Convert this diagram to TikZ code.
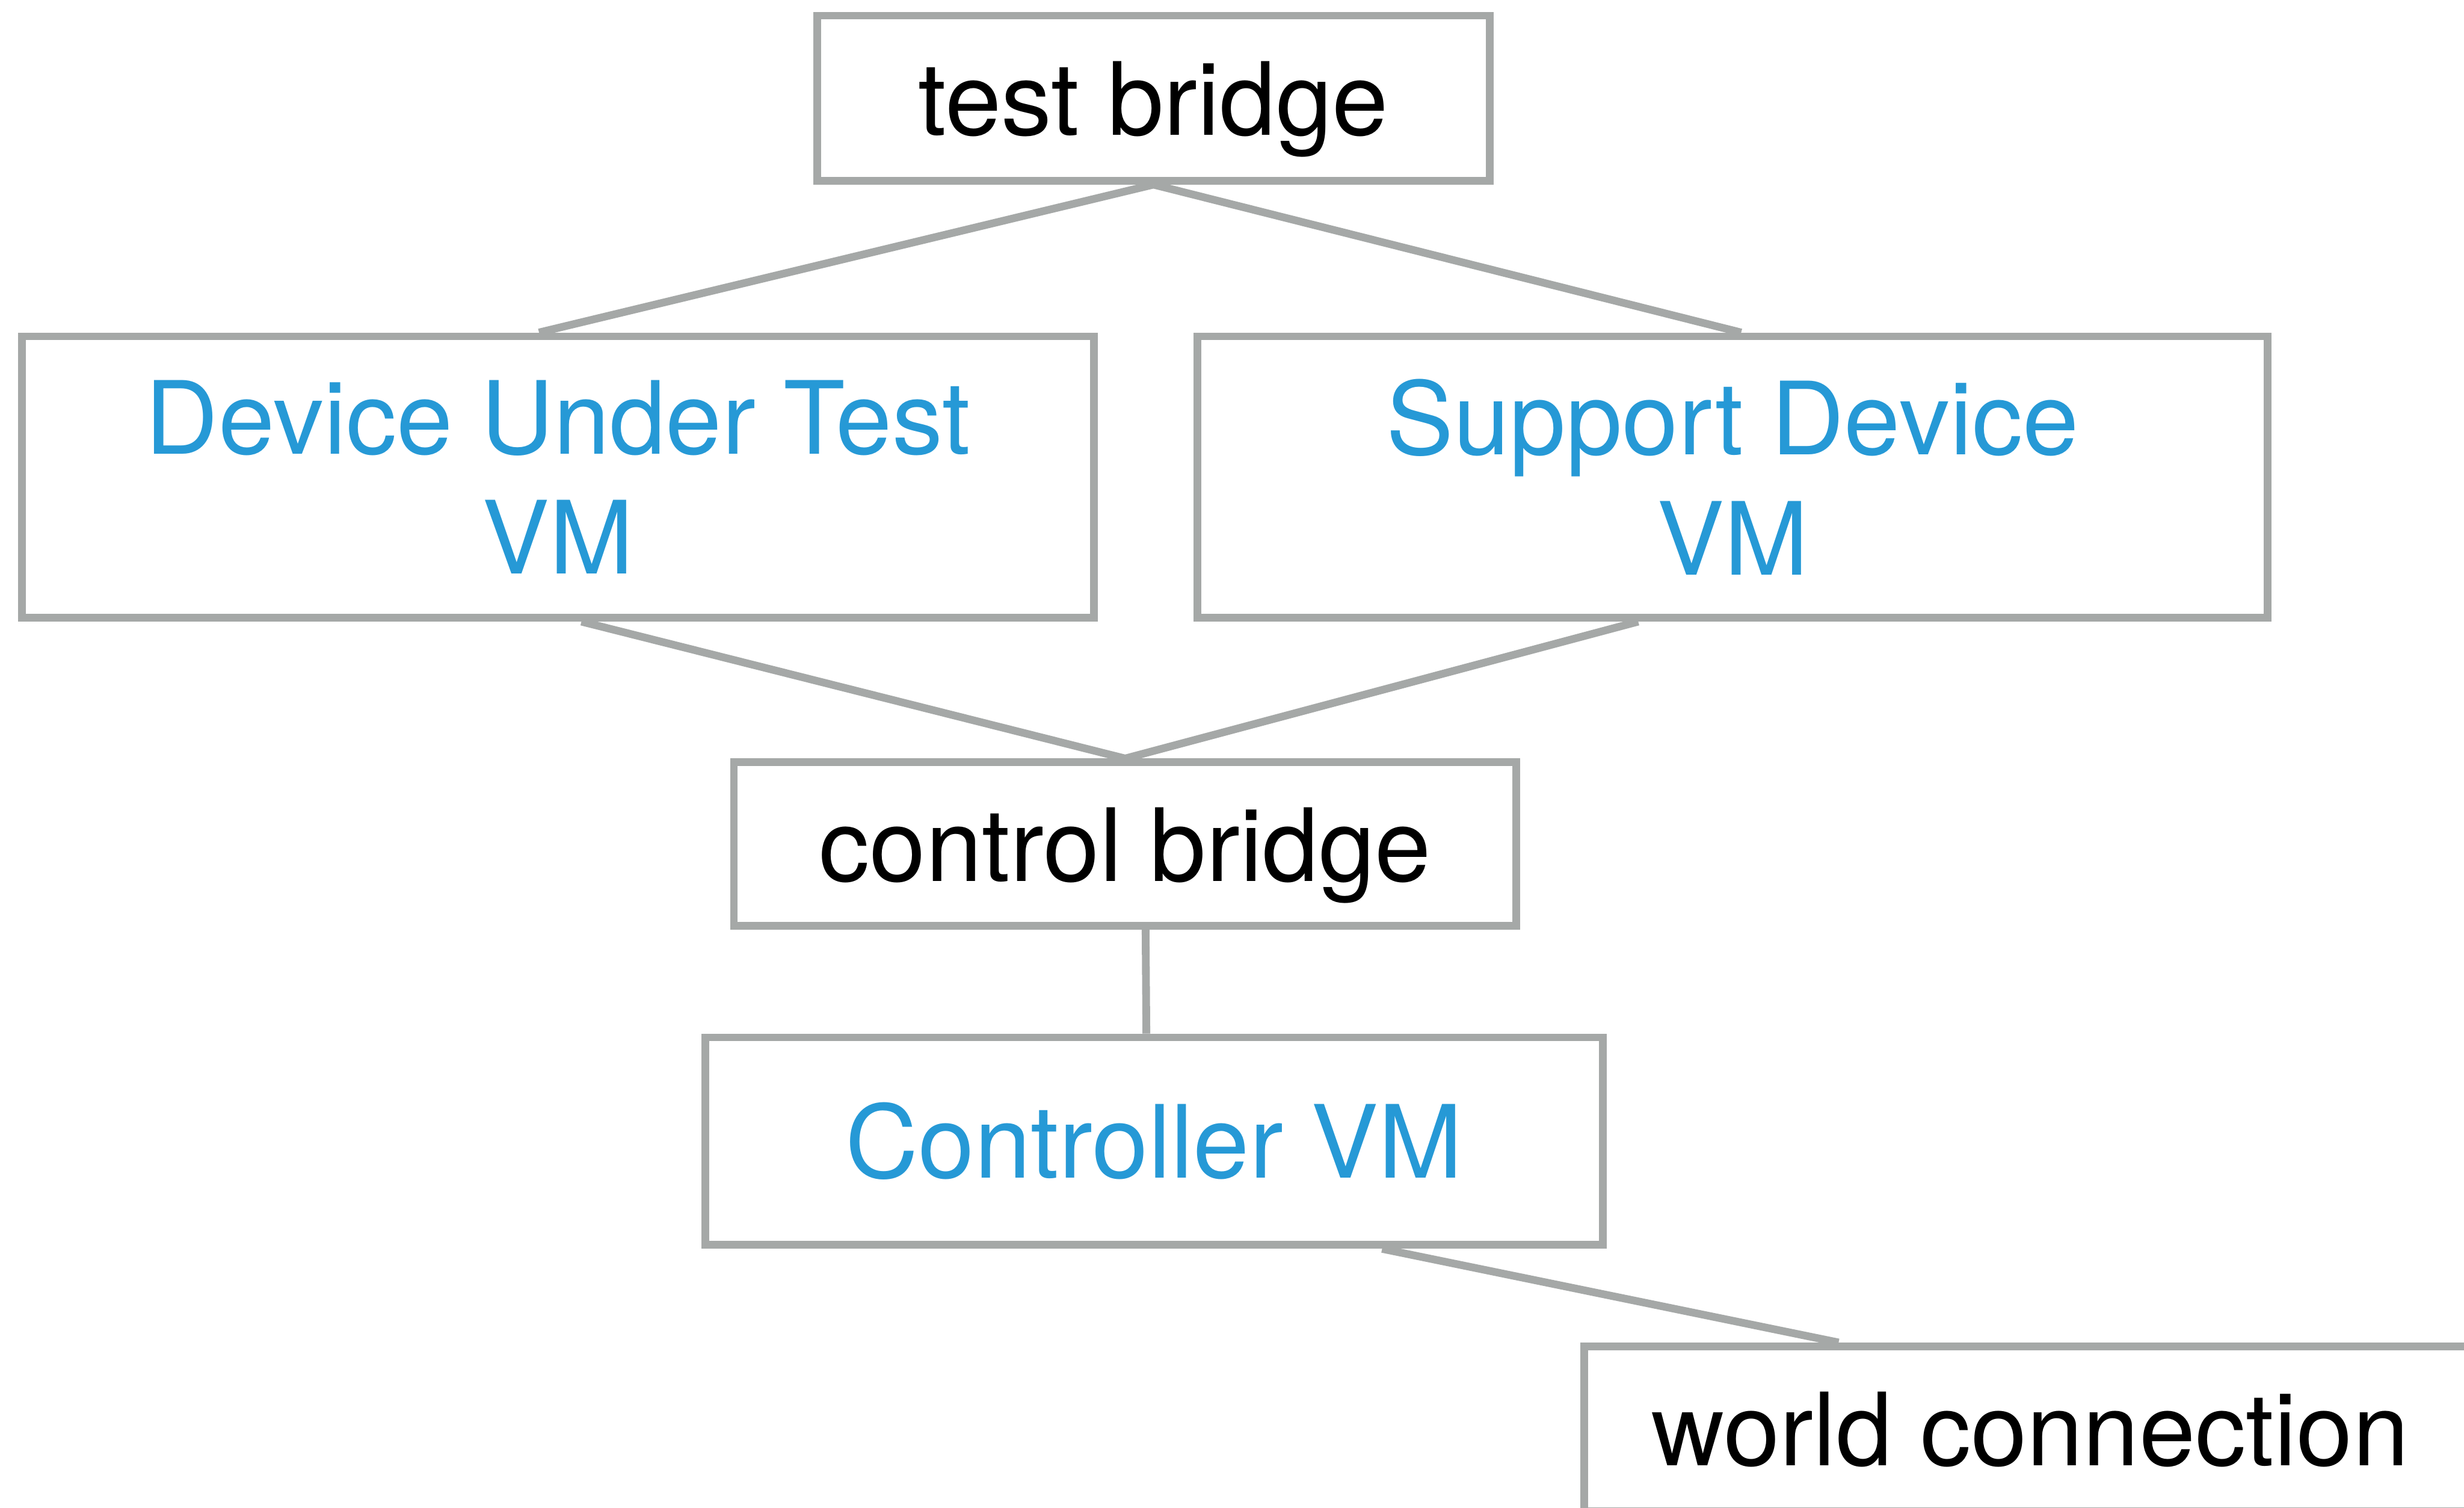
\documentclass[tikz,border=0pt]{standalone}
\usepackage{fontspec}
\setmainfont{TeX Gyre Heros}
\usepackage{tikz}
\usetikzlibrary{arrows,shapes}
\usetikzlibrary{positioning}
\definecolor{pencil}{RGB}{165,168,167}
\definecolor{vmblue}{RGB}{38,153,214}
\tikzstyle{bridge} = [rectangle, draw=pencil, line width=1.4pt, text=black,
    text height=0.6cm, text depth=0.13cm, inner sep=0pt]
\tikzstyle{vm} = [rectangle, draw=pencil, line width=1.4pt, text=vmblue,
    align=center, inner sep=0pt]
\tikzstyle{wire} = [draw=pencil, line width=1.4pt]

\begin{document}
\begin{tikzpicture}[font=\fontsize{18.3}{21.7}\selectfont]
  \useasboundingbox (0,0) rectangle (15.68,9.59);
  % Place nodes
  \node [bridge, minimum width=4.28cm, minimum height=1.05cm] (testbr) at (7.34,8.965) {test bridge};
  \node [vm, minimum width=6.82cm, minimum height=1.79cm] (dut) at (3.55,6.555) {Device Under Test\\VM};
  \node [vm, minimum width=6.81cm, minimum height=1.79cm] (support) at (11.025,6.555) {Support Device\\VM};
  \node [bridge, minimum width=4.98cm, minimum height=1.04cm] (ctrlbr) at (7.16,4.22) {control bridge};
  \node [vm, minimum width=5.71cm, minimum height=1.32cm] (ctrlvm) at (7.345,2.33) {Controller VM};
  \node [bridge, minimum width=5.68cm, minimum height=1.05cm] (world) at (12.92,0.50) {world connection};
  % Draw edges
  \draw[wire] (testbr.south) -- ([xshift=-1.2mm]dut.north);
  \draw[wire] (testbr.south) -- ([xshift=0.55mm]support.north);
  \draw[wire] ([xshift=1.5mm]dut.south) -- (ctrlbr.north);
  \draw[wire] ([xshift=-6mm]support.south) -- (ctrlbr.north);
  \draw[wire] ([xshift=1.3mm]ctrlbr.south) -- ([xshift=-0.5mm]ctrlvm.north);
  \draw[wire] ([xshift=14.5mm]ctrlvm.south) -- ([xshift=-12.2mm]world.north);
\end{tikzpicture}
\end{document}
